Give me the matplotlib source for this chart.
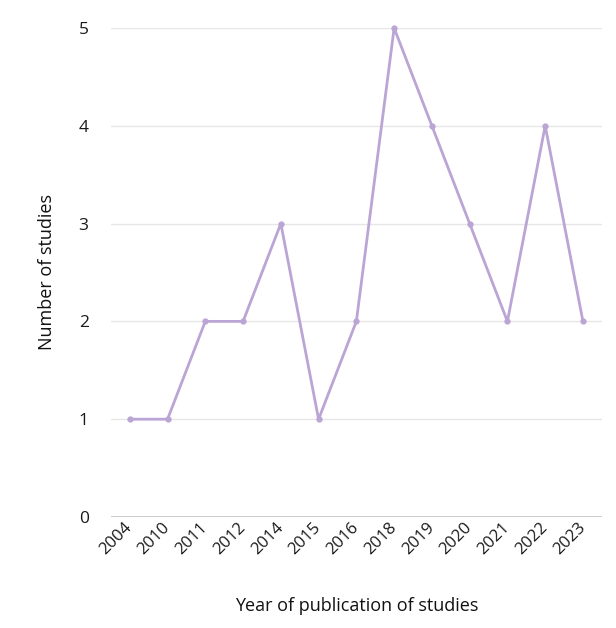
import matplotlib.pyplot as plt

plt.rcParams['font.family'] = ['Open Sans', 'DejaVu Sans']

years = ['2004', '2010', '2011', '2012', '2014', '2015', '2016',
         '2018', '2019', '2020', '2021', '2022', '2023']
counts = [1, 1, 2, 2, 3, 1, 2, 5, 4, 3, 2, 4, 2]
yticks = [0, 1, 2, 3, 4, 5]

fig = plt.figure(figsize=(6.16, 6.28), dpi=100)
ax = fig.add_axes([0.180, 0.1768, 0.797, 0.7786])

x = list(range(len(years)))
ax.plot(x, counts, color='#bba5d5', lw=2, marker='o', ms=3.5, clip_on=False, zorder=3)

ax.set_xlim(-0.5, 12.5)
ax.set_ylim(0, 5)
ax.set_yticks(yticks)
ax.set_yticklabels([str(v) for v in yticks], fontsize=12.5, color='#1a1a1a')
ax.set_xticks(x)
ax.set_xticklabels(years, rotation=45, ha='right', va='center',
                   rotation_mode='anchor', fontsize=12, color='#1a1a1a')

for v in yticks[1:]:
    ax.axhline(v, color='#e6e6e6', lw=1, zorder=1)
ax.axhline(0, color='#c8c8c8', lw=2, zorder=2)

for s in ax.spines.values():
    s.set_visible(False)
ax.tick_params(axis='both', length=0)
ax.tick_params(axis='y', pad=16)
ax.tick_params(axis='x', pad=6)

ax.set_xlabel('Year of publication of studies', fontsize=13, color='#111111', labelpad=28)
ax.set_ylabel('Number of studies', fontsize=13, color='#111111', labelpad=16)

fig.savefig('out.png', dpi=100)
